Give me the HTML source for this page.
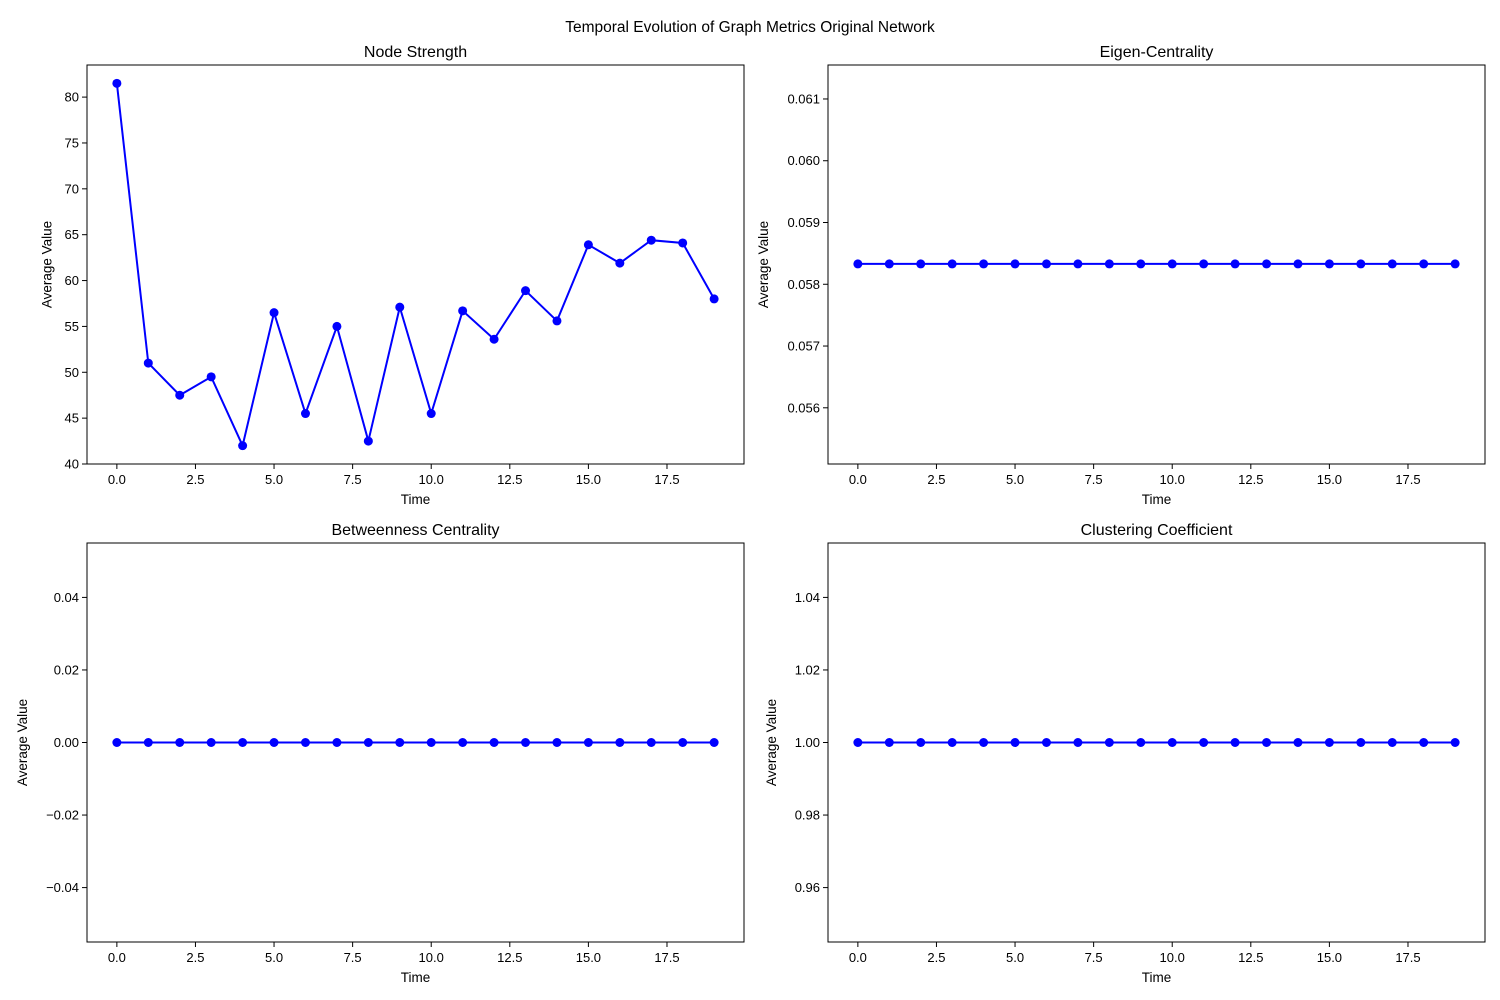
<!DOCTYPE html>
<html><head><meta charset="utf-8"><style>
body{margin:0;background:#fff;}
svg{display:block;font-family:"Liberation Sans","DejaVu Sans",sans-serif;}
</style></head><body>
<svg id="chart" width="1500" height="1000">
<rect width="1500" height="1000" fill="#fff"/>
<text x="750" y="32" text-anchor="middle" font-size="15.5">Temporal Evolution of Graph Metrics Original Network</text>
</svg>
<script>
const times = [0,1,2,3,4,5,6,7,8,9,10,11,12,13,14,15,16,17,18,19];
const nodeStrength = [81.5,51,47.5,49.5,42,56.5,45.5,55,42.5,57.1,45.5,56.7,53.6,58.9,55.6,63.9,61.9,64.4,64.1,58];
const eigenCentrality = [0.05833,0.05833,0.05833,0.05833,0.05833,0.05833,0.05833,0.05833,0.05833,0.05833,0.05833,0.05833,0.05833,0.05833,0.05833,0.05833,0.05833,0.05833,0.05833,0.05833];
const betweenness = [0,0,0,0,0,0,0,0,0,0,0,0,0,0,0,0,0,0,0,0];
const clustering = [1,1,1,1,1,1,1,1,1,1,1,1,1,1,1,1,1,1,1,1];
const xTicks = [0,2.5,5,7.5,10,12.5,15,17.5];
const xTickLabels = ["0.0","2.5","5.0","7.5","10.0","12.5","15.0","17.5"];
const nsTicks = [40,45,50,55,60,65,70,75,80];
const nsTickLabels = ["40","45","50","55","60","65","70","75","80"];
const ecTicks = [0.056,0.057,0.058,0.059,0.060,0.061];
const ecTickLabels = ["0.056","0.057","0.058","0.059","0.060","0.061"];
const btTicks = [-0.04,-0.02,0,0.02,0.04];
const btTickLabels = ["\u22120.04","\u22120.02","0.00","0.02","0.04"];
const ccTicks = [0.96,0.98,1.00,1.02,1.04];
const ccTickLabels = ["0.96","0.98","1.00","1.02","1.04"];

const NS="http://www.w3.org/2000/svg";
const svg=document.getElementById('chart');
function mk(tag,attrs,parent){const e=document.createElementNS(NS,tag);for(const k in attrs)e.setAttribute(k,attrs[k]);(parent||svg).appendChild(e);return e;}

function panel(name,title,L,T,R,B,ys,ymin,ymax,yt,ytl){
  const g=mk('g',{});
  
  
  const xmin=-0.95,xmax=19.95;
  const sx=v=>L+(v-xmin)/(xmax-xmin)*(R-L);
  const sy=v=>B-(v-ymin)/(ymax-ymin)*(B-T);
  const t=mk('text',{x:(L+R)/2,y:T-8,'text-anchor':'middle','font-size':'16'},g);t.textContent=title;
  
  
  xTicks.forEach((v,i)=>{const x=sx(v);mk('line',{x1:x,x2:x,y1:B,y2:B+5,stroke:'#000','stroke-width':1},g);
    const tx=mk('text',{x:x,y:B+20,'text-anchor':'middle','font-size':'13'},g);tx.textContent=xTickLabels[i];
    
    });
  yt.forEach((v,i)=>{const y=sy(v);mk('line',{x1:L-5,x2:L,y1:y,y2:y,stroke:'#000','stroke-width':1},g);
    const ty=mk('text',{x:L-8,y:y+4.5,'text-anchor':'end','font-size':'13'},g);ty.textContent=ytl[i];
    
    });
  const xl=mk('text',{x:(L+R)/2,y:B+40,'text-anchor':'middle','font-size':'13.5'},g);xl.textContent='Time';
  
  
  const maxw=Math.max(...ytl.map(s=>s.length));
  const yx=L-19-maxw*8.2;
  const yl=mk('text',{x:yx,y:(T+B)/2,'text-anchor':'middle','font-size':'13.5',transform:`rotate(-90 ${yx} ${(T+B)/2})`},g);yl.textContent='Average Value';
  
  
  const pts=times.map((tt,i)=>sx(tt)+','+sy(ys[i])).join(' ');
  const pl=mk('polyline',{points:pts,fill:'none',stroke:'#0000ff','stroke-width':2},g);
  
  
  times.forEach((tt,i)=>{const c=mk('circle',{cx:sx(tt),cy:sy(ys[i]),r:4.5,fill:'#0000ff'},g);
    
    });
  mk('rect',{x:L,y:T,width:R-L,height:B-T,fill:'none',stroke:'#000','stroke-width':1},g);
}
panel('node-strength','Node Strength',87,65,744,464,nodeStrength,40,83.5,nsTicks,nsTickLabels);
panel('eigen-centrality','Eigen-Centrality',828,65,1485,464,eigenCentrality,0.05509,0.06155,ecTicks,ecTickLabels);
panel('betweenness-centrality','Betweenness Centrality',87,543,744,942,betweenness,-0.055,0.055,btTicks,btTickLabels);
panel('clustering-coefficient','Clustering Coefficient',828,543,1485,942,clustering,0.945,1.055,ccTicks,ccTickLabels);
</script>
</body></html>
